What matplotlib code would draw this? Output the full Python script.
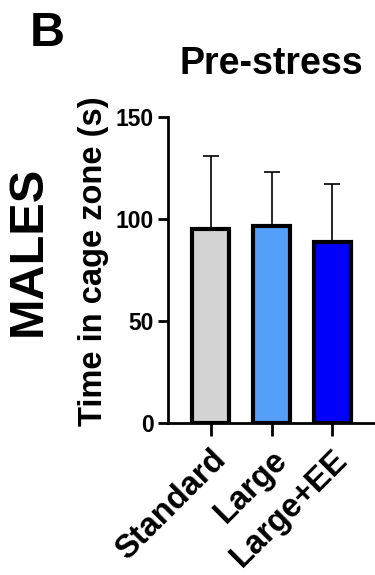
import numpy as np
import matplotlib
matplotlib.use("Agg")
from matplotlib import pyplot as plt
from matplotlib.transforms import ScaledTranslation

groups = ["Standard", "Large", "Large+EE"]
means = [95, 96.5, 88.5]
sds = [36, 26.5, 28.5]
colors = ["#d3d3d3", "#559ffb", "#0000fb"]

plt.rcParams['font.family'] = ['Liberation Sans', 'DejaVu Sans']
plt.rcParams['font.weight'] = 'bold'

fig = plt.figure(figsize=(3.75, 5.75), dpi=100)
ax = fig.add_axes([0.448, 0.2643, 0.552, 0.5322])

x = np.arange(len(groups))
ax.bar(x, means, width=0.62, color=colors, edgecolor='black', linewidth=3, zorder=2)
ax.errorbar(x, means, yerr=[np.zeros(len(sds)), sds], fmt='none', ecolor='black',
            elinewidth=1.2, capsize=6, capthick=1.2, zorder=1)

ax.set_xlim(-0.7, 2.7)
ax.set_ylim(0, 150)
ax.set_yticks([0, 50, 100, 150])
ax.set_xticks(x)
ax.set_xticklabels(groups, rotation=45, ha='right', rotation_mode='anchor')
# nudge the rotated labels a little to the left, like the original
shift = ScaledTranslation(-4 / 72, 0, fig.dpi_scale_trans)
for lbl in ax.get_xticklabels():
    lbl.set_transform(lbl.get_transform() + shift)
for s in ['top', 'right']:
    ax.spines[s].set_visible(False)
for s in ['left', 'bottom']:
    ax.spines[s].set_linewidth(2)
ax.tick_params(axis='y', width=2, length=7, labelsize=16.5, pad=3)
ax.tick_params(axis='x', width=2, length=9, labelsize=23.5, pad=6)
ax.set_ylabel("Time in cage zone (s)", fontsize=23.5, fontweight='bold')
ax.yaxis.set_label_coords(-0.287, 0.53)
ax.set_title("Pre-stress", fontsize=27, fontweight='bold', pad=31)

fig.text(0.075, 0.564, "MALES", rotation=90, fontsize=35, fontweight='bold', ha='center', va='center')
fig.text(0.08, 0.92, "B", fontsize=35, fontweight='bold', ha='left', va='baseline')

fig.savefig("out.png", dpi=100)
